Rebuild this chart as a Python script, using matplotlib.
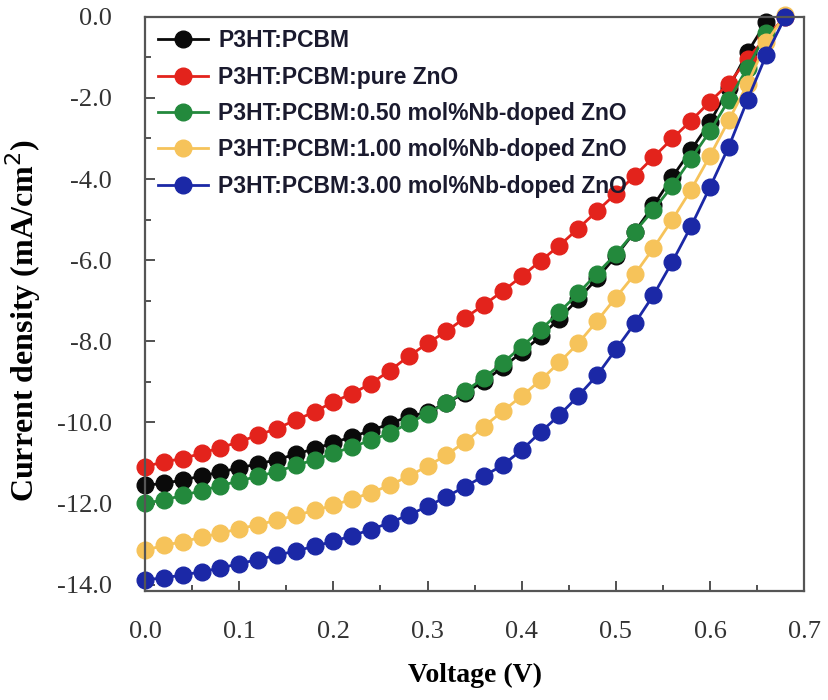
import matplotlib
matplotlib.use('Agg')
import matplotlib.pyplot as plt
from matplotlib.ticker import MultipleLocator, FormatStrFormatter

plt.rcParams['axes.unicode_minus'] = False

# Voltage (V), points every 0.02 V
V = [round(0.02 * i, 2) for i in range(35)]

# Current density (mA/cm2)
J_p3ht = [-11.55, -11.50, -11.42, -11.32, -11.22, -11.12, -11.02, -10.92, -10.78, -10.65,
          -10.50, -10.35, -10.20, -10.03, -9.85, -9.75, -9.52, -9.27, -8.98, -8.64,
          -8.27, -7.88, -7.44, -6.96, -6.45, -5.90, -5.30, -4.65, -3.95, -3.28,
          -2.60, -1.75, -0.87, -0.12]
J_pure = [-11.09, -10.97, -10.89, -10.76, -10.62, -10.48, -10.31, -10.15, -9.94, -9.74,
          -9.49, -9.29, -9.04, -8.72, -8.37, -8.05, -7.75, -7.42, -7.10, -6.76,
          -6.40, -6.02, -5.64, -5.22, -4.79, -4.36, -3.92, -3.46, -3.00, -2.56,
          -2.09, -1.65, -1.03, -0.50, 0.00]
J_050 = [-11.99, -11.91, -11.80, -11.68, -11.56, -11.44, -11.33, -11.21, -11.06, -10.92,
         -10.76, -10.60, -10.44, -10.26, -10.02, -9.78, -9.52, -9.23, -8.90, -8.53,
         -8.13, -7.72, -7.28, -6.82, -6.33, -5.85, -5.30, -4.76, -4.17, -3.50,
         -2.82, -2.05, -1.25, -0.40]
J_100 = [-13.15, -13.03, -12.94, -12.83, -12.73, -12.62, -12.52, -12.41, -12.29, -12.17,
         -12.04, -11.89, -11.73, -11.55, -11.32, -11.08, -10.80, -10.48, -10.10, -9.72,
         -9.35, -8.96, -8.52, -8.05, -7.50, -6.92, -6.35, -5.70, -5.00, -4.26,
         -3.43, -2.55, -1.65, -0.62, 0.05]
J_300 = [-13.88, -13.83, -13.76, -13.68, -13.59, -13.48, -13.38, -13.27, -13.17, -13.05,
         -12.93, -12.79, -12.64, -12.47, -12.28, -12.07, -11.83, -11.58, -11.32, -11.05,
         -10.68, -10.24, -9.82, -9.35, -8.84, -8.20, -7.56, -6.86, -6.04, -5.16,
         -4.20, -3.20, -2.04, -0.93, 0.00]

labels = ['P3HT:PCBM',
          'P3HT:PCBM:pure ZnO',
          'P3HT:PCBM:0.50 mol%Nb-doped ZnO',
          'P3HT:PCBM:1.00 mol%Nb-doped ZnO',
          'P3HT:PCBM:3.00 mol%Nb-doped ZnO']
colores = ['#0a0a0a', '#e3231c', '#23893c', '#f6c35a', '#1b28a6']
series = [J_p3ht, J_pure, J_050, J_100, J_300]

fig = plt.figure(figsize=(8.29, 7.0), dpi=100)
ax = fig.add_axes([0.175, 0.156, 0.795, 0.82])

for J, lab, c in zip(series, labels, colores):
    ax.plot(V[:len(J)], J, '-o', color=c, lw=2, ms=12, mec=c, label=lab, clip_on=False)

ax.set_xlim(0, 0.7)
ax.set_ylim(-14.15, 0.0)
ax.xaxis.set_major_locator(MultipleLocator(0.1))
ax.xaxis.set_minor_locator(MultipleLocator(0.05))
ax.yaxis.set_major_locator(MultipleLocator(2))
ax.yaxis.set_minor_locator(MultipleLocator(1))
ax.xaxis.set_major_formatter(FormatStrFormatter('%.1f'))
ax.yaxis.set_major_formatter(FormatStrFormatter('%.1f'))

ax.tick_params(which='both', direction='in', colors='#333333', labelcolor='#333333',
               labelsize=19, width=1.2)
ax.tick_params(which='major', length=7)
ax.tick_params(which='minor', length=4)
ax.tick_params(axis='y', pad=24)
ax.tick_params(axis='x', pad=22)
for lab in ax.get_xticklabels() + ax.get_yticklabels():
    lab.set_fontfamily('Liberation Serif')
for s in ax.spines.values():
    s.set_color('#555555')
    s.set_linewidth(1.6)

ax.set_xlabel('Voltage (V)', fontfamily='Liberation Serif', fontweight='bold',
              fontsize=20, labelpad=14)
ax.set_ylabel('Current density (mA/cm$^2$)', fontfamily='Liberation Serif',
              fontweight='bold', fontsize=23)
ax.yaxis.set_label_coords(-0.155, 0.47)

leg = ax.legend(loc='upper left', frameon=False, handlelength=2.2, labelspacing=0.58,
                borderaxespad=0.15, handletextpad=0.45,
                prop={'family': 'Liberation Sans', 'weight': 'bold', 'size': 16.5})
for t in leg.get_texts():
    t.set_color('#1a1a2e')

fig.savefig('out.png', dpi=100)
